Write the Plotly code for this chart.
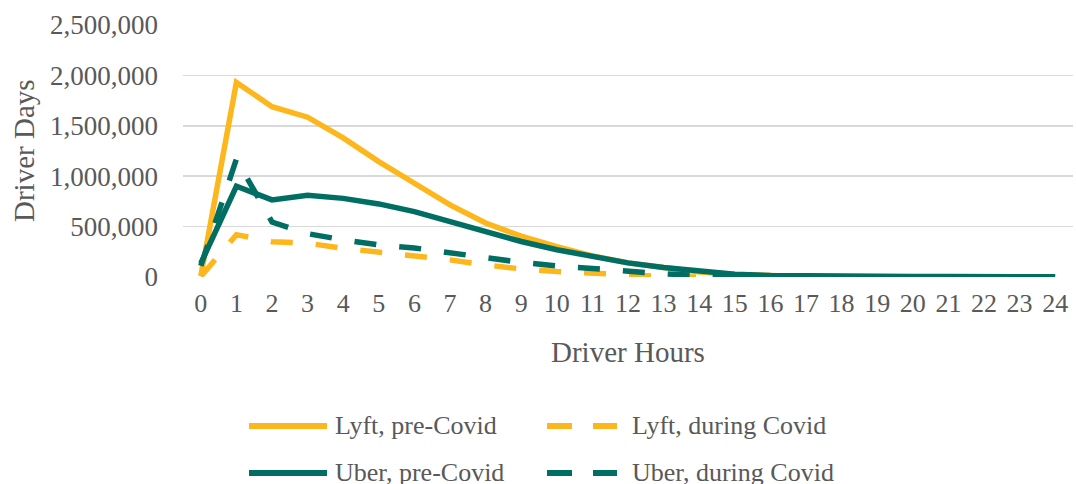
import plotly.graph_objects as go

hours = list(range(25))
lyft_pre = [10000, 1930000, 1690000, 1585000, 1380000, 1145000, 930000, 715000, 535000,
            405000, 300000, 210000, 140000, 90000, 50000, 25000, 12000, 6000, 3000, 2000,
            1500, 1000, 1000, 500, 500]
uber_pre = [135000, 900000, 765000, 810000, 780000, 725000, 648000, 550000, 450000,
            352000, 270000, 200000, 140000, 95000, 55000, 28000, 15000, 9000, 6000, 5000,
            4000, 4000, 3000, 3000, 3000]
lyft_during = [5000, 420000, 350000, 335000, 285000, 250000, 218000, 170000, 120000,
               80000, 55000, 35000, 12000, 5000, 0, 0]
uber_during = [110000, 1170000, 545000, 430000, 368000, 318000, 288000, 240000, 185000,
               145000, 110000, 80000, 55000, 32000, 15000, 3000]

series_names = ["Lyft, pre-Covid", "Lyft, during Covid", "Uber, pre-Covid", "Uber, during Covid"]
yticks = [0, 500000, 1000000, 1500000, 2000000, 2500000]
ytick_text = ["0", "500,000", "1,000,000", "1,500,000", "2,000,000", "2,500,000"]

YELLOW = "#FDB71C"
GREEN = "#006E62"
TXT = "#595959"
FONT = "Liberation Serif"

fig = go.Figure()
fig.add_trace(go.Scatter(x=hours[:len(lyft_pre)], y=lyft_pre, mode="lines", name=series_names[0],
                         line=dict(color=YELLOW, width=5.5)))
fig.add_trace(go.Scatter(x=hours[:len(lyft_during)], y=lyft_during, mode="lines", name=series_names[1],
                         line=dict(color=YELLOW, width=5.5, dash="22px,23px")))
fig.add_trace(go.Scatter(x=hours[:len(uber_pre)], y=uber_pre, mode="lines", name=series_names[2],
                         line=dict(color=GREEN, width=5.5)))
fig.add_trace(go.Scatter(x=hours[:len(uber_during)], y=uber_during, mode="lines", name=series_names[3],
                         line=dict(color=GREEN, width=5.5, dash="22px,23px")))

# plot-area pixel geometry
L, R, T, B = 183, 1073, 25, 277
W, H = R - L, B - T
px = lambda p: (p - L) / W
py = lambda p: (B - p) / H

fig.update_layout(
    width=1076, height=484,
    margin=dict(l=L, r=1076 - R, t=T, b=484 - B, autoexpand=False),
    paper_bgcolor="white", plot_bgcolor="white",
    showlegend=False,
    font=dict(family=FONT, size=26, color=TXT),
    xaxis=dict(range=[-0.5, 24.5], tickmode="array", tickvals=hours,
               ticktext=[str(h) for h in hours], showgrid=False, zeroline=False,
               showline=False, ticks="", ticklabelstandoff=8, automargin=False,
               tickfont=dict(family=FONT, size=26, color=TXT), fixedrange=True),
    yaxis=dict(range=[0, 2500000], tickmode="array", tickvals=yticks, ticktext=ytick_text,
               showgrid=True, gridcolor="#D9D9D9", gridwidth=1.5, zeroline=False,
               showline=False, ticks="", ticklabelstandoff=24, automargin=False,
               tickfont=dict(family=FONT, size=27, color=TXT), fixedrange=True),
)

annotations = [
    dict(text="Driver Hours", x=px(628), y=py(352), xref="paper", yref="paper",
         xanchor="center", yanchor="middle", showarrow=False,
         font=dict(family=FONT, size=29, color=TXT)),
    dict(text="Driver Days", x=px(24), y=0.5, xref="paper", yref="paper",
         xanchor="center", yanchor="middle", showarrow=False, textangle=-90,
         font=dict(family=FONT, size=29, color=TXT)),
]

shapes = []
legend_rows = [426, 473]
legend_items = [
    (series_names[0], YELLOW, "solid", 249, 327, 333, legend_rows[0]),
    (series_names[1], YELLOW, "25px,21px", 547, 617, 630, legend_rows[0]),
    (series_names[2], GREEN, "solid", 249, 327, 333, legend_rows[1]),
    (series_names[3], GREEN, "25px,21px", 547, 617, 630, legend_rows[1]),
]
for name, color, dash, x0, x1, xt, yr in legend_items:
    shapes.append(dict(type="line", xref="paper", yref="paper", x0=px(x0), x1=px(x1),
                       y0=py(yr), y1=py(yr), line=dict(color=color, width=6, dash=dash)))
    annotations.append(dict(text=name, x=px(xt), y=py(yr - 1), xref="paper", yref="paper",
                            xanchor="left", yanchor="middle", showarrow=False,
                            font=dict(family=FONT, size=26, color=TXT)))

fig.update_layout(annotations=annotations, shapes=shapes)
fig.write_html("out.html", config={"displayModeBar": False, "staticPlot": True},
               post_script="document.body.style.margin='0';document.body.style.overflow='hidden';")
